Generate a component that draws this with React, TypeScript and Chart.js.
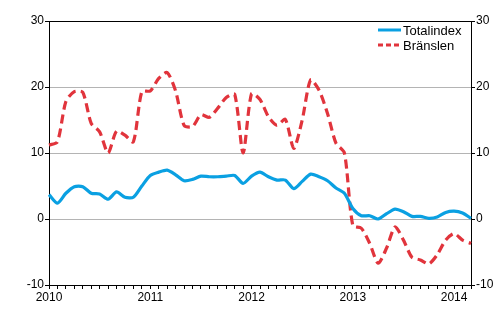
import React, { useEffect, useRef } from "react";
import { Chart, registerables } from "chart.js";

Chart.register(...registerables);

const years = ["2010", "2011", "2012", "2013", "2014"];
const months = 51; // Jan 2010 .. Mar 2014

const totalindex = [
  3.7, 2.4, 3.9, 4.9, 4.9, 3.9, 3.8, 3.0, 4.1, 3.3, 3.3, 5.0,
  6.6, 7.1, 7.4, 6.7, 5.8, 6.0, 6.5, 6.4, 6.4, 6.5, 6.6, 5.4,
  6.5, 7.1, 6.4, 5.9, 5.9, 4.6, 5.7, 6.8, 6.4, 5.8, 4.7, 3.9,
  1.6, 0.5, 0.5, 0.0, 0.8, 1.5, 1.1, 0.4, 0.4, 0.1, 0.3, 1.0,
  1.2, 0.9, 0.1,
];

const branslen = [
  11.2, 11.7, 17.8, 19.3, 19.2, 14.5, 13.2, 10.0, 13.3, 12.7, 11.7, 19.3,
  19.4, 21.3, 22.2, 19.4, 14.2, 14.0, 15.8, 15.4, 16.8, 18.4, 18.9, 10.0,
  19.0, 18.1, 15.5, 14.2, 15.1, 10.7, 15.0, 21.1, 19.5, 16.0, 11.5, 10.0,
  -1.0, -1.4, -3.7, -6.7, -4.4, -1.2, -3.2, -5.8, -6.2, -6.8, -5.4, -3.2,
  -2.2, -3.2, -3.7,
];

const seriesNames = ["Totalindex", "Bränslen"];
const BLUE = "#0aa0e2";
const RED = "#e1343c";
const FONT = "'Liberation Sans', Arial, sans-serif";

const labels: string[] = [];
for (let i = 0; i < months; i++) {
  const y = years[Math.floor(i / 12)];
  const m = (i % 12) + 1;
  labels.push(y + "M" + (m < 10 ? "0" + m : "" + m));
}

const legendPlugin = {
  id: "customLegend",
  afterDraw(chart: any) {
    const ctx = chart.ctx;
    const ca = chart.chartArea;
    const x0 = ca.right - 93;
    const x1 = ca.right - 70;
    const items = [
      { name: seriesNames[0], color: BLUE, dash: [] as number[], y: ca.top + 9 },
      { name: seriesNames[1], color: RED, dash: [5, 3], y: ca.top + 24 },
    ];
    ctx.save();
    for (const it of items) {
      ctx.beginPath();
      ctx.setLineDash(it.dash);
      ctx.strokeStyle = it.color;
      ctx.lineWidth = 3;
      ctx.moveTo(x0, it.y);
      ctx.lineTo(x1, it.y);
      ctx.stroke();
      ctx.setLineDash([]);
      ctx.fillStyle = "#000";
      ctx.font = "13px " + FONT;
      ctx.textBaseline = "middle";
      ctx.textAlign = "left";
      ctx.fillText(it.name, x1 + 2, it.y + 1);
    }
    ctx.restore();
  },
};

export default function App() {
  const ref = useRef<HTMLCanvasElement>(null);
  useEffect(() => {
    if (!ref.current) return;
    const chart = new Chart(ref.current, {
      type: "line",
      data: {
        labels,
        datasets: [
          {
            label: seriesNames[0],
            data: totalindex,
            borderColor: BLUE,
            backgroundColor: BLUE,
            borderWidth: 3.2,
            pointRadius: 0,
            tension: 0.25,
          },
          {
            label: seriesNames[1],
            data: branslen,
            borderColor: RED,
            backgroundColor: RED,
            borderWidth: 3.2,
            borderDash: [9, 5],
            pointRadius: 0,
            tension: 0.25,
          },
        ],
      },
      options: {
        animation: false,
        responsive: false,
        maintainAspectRatio: false,
        layout: { padding: { top: 21, left: 0, right: 0, bottom: 0 } },
        plugins: { legend: { display: false }, tooltip: { enabled: false } },
        scales: {
          x: {
            type: "category",
            offset: false,
            grid: {
              drawOnChartArea: false,
              drawTicks: true,
              tickLength: 4,
              tickColor: "#000",
            },
            border: { display: true, color: "#000", width: 1 },
            ticks: {
              autoSkip: false,
              maxRotation: 0,
              minRotation: 0,
              padding: 1,
              color: "#000",
              font: { family: FONT, size: 12 },
              callback: (_v: any, i: number) => (i % 12 === 0 ? years[i / 12] : ""),
            },
            afterFit: (s: any) => {
              s.height = 45;
            },
          },
          y: {
            position: "left",
            min: -10,
            max: 30,
            ticks: {
              stepSize: 10,
              padding: 1,
              color: "#000",
              font: { family: FONT, size: 12 },
            },
            grid: {
              color: (c: any) =>
                c.tick && c.tick.value === 30 ? "#000" : c.tick && c.tick.value === -10 ? "rgba(0,0,0,0)" : "#b4b4b4",
              tickColor: "#000",
              tickLength: 4,
              lineWidth: 1,
            },
            border: { display: true, color: "#000", width: 1 },
            afterFit: (s: any) => {
              s.width = 49;
            },
          },
          y2: {
            position: "right",
            min: -10,
            max: 30,
            ticks: {
              stepSize: 10,
              padding: 1,
              color: "#000",
              font: { family: FONT, size: 12 },
            },
            grid: {
              drawOnChartArea: false,
              tickColor: "#000",
              tickLength: 4,
            },
            border: { display: true, color: "#000", width: 1 },
            afterFit: (s: any) => {
              s.width = 29;
            },
          },
        },
      },
      plugins: [legendPlugin],
    } as any);
    return () => chart.destroy();
  }, []);
  return (
    <div style={{ position: "fixed", left: 0, top: 0, width: 500, height: 330, background: "#fff" }}>
      <canvas ref={ref} width={500} height={330} style={{ width: 500, height: 330 }} />
    </div>
  );
}
